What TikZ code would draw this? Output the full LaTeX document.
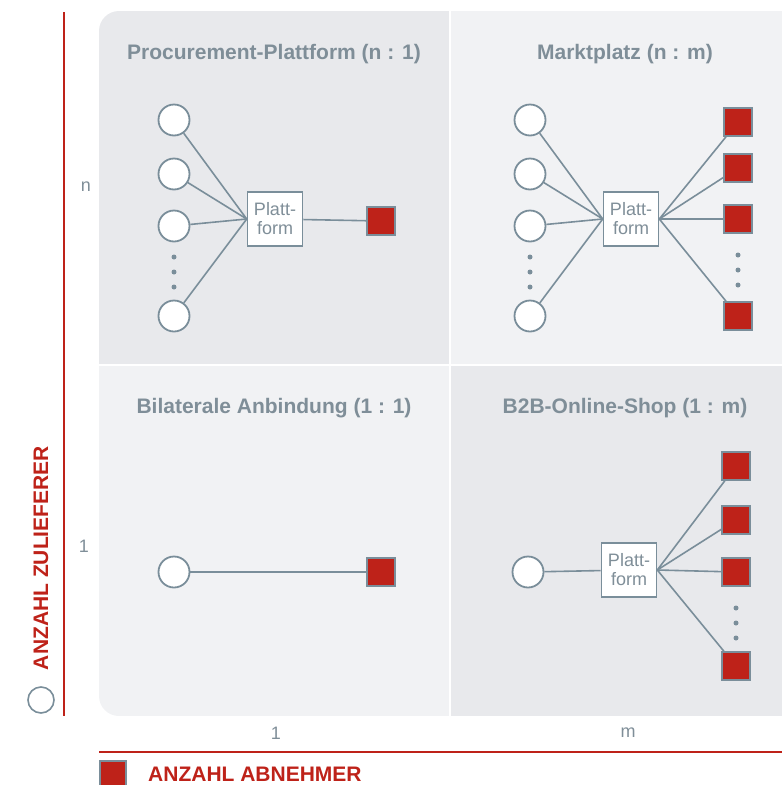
\documentclass[tikz,border=0pt]{standalone}
\usepackage{fontspec}
\setmainfont{Liberation Sans}
\definecolor{edge}{HTML}{7A8E9A}
\definecolor{txtgray}{HTML}{7F8E98}
\definecolor{accent}{HTML}{BE2219}
\definecolor{panelA}{HTML}{E8E9EC}
\definecolor{panelB}{HTML}{F1F2F4}
\begin{document}
\begin{tikzpicture}[x=1pt,y=-1pt,
  party/.style={circle,draw=edge,fill=white,line width=1.8pt,minimum size=31pt,inner sep=0pt},
  buyer/.style={rectangle,draw=edge,fill=accent,line width=1.6pt,minimum size=28pt,inner sep=0pt},
  hub/.style={rectangle,draw=edge,fill=white,line width=1.6pt,minimum width=55pt,minimum height=54pt,inner sep=0pt,
    align=center,font=\fontsize{18}{19}\selectfont,text=txtgray},
  link/.style={draw=edge,line width=1.6pt},
  title/.style={font=\bfseries\fontsize{21}{24}\selectfont,text=txtgray},
  tick/.style={font=\fontsize{18}{20}\selectfont,text=txtgray},
  dotmark/.style={circle,fill=edge,minimum size=5pt,inner sep=0pt},
  axis/.style={draw=accent,line width=2pt}]
\useasboundingbox (0,0) rectangle (782,785);
% quadrant backgrounds
\begin{scope}
  \clip[rounded corners=20pt] (99,11) rectangle (830,716);
  \fill[panelA] (99,11) rectangle (449,364);
  \fill[panelB] (451,11) rectangle (782,364);
  \fill[panelB] (99,366) rectangle (449,716);
  \fill[panelA] (451,366) rectangle (782,716);
\end{scope}
% axes
\draw[axis] (64,12) -- (64,716);
\draw[axis] (99,752) -- (782,752);
\node[party,minimum size=26pt,line width=1.6pt] (lgc) at (41,700) {};
\node[buyer,minimum size=26pt] (lgs) at (113,774) {};
\node[rotate=90,font=\bfseries\fontsize{21}{24}\selectfont,text=accent] (ylab) at (41,558) {ANZAHL ZULIEFERER};
\node[anchor=west,font=\bfseries\fontsize{21}{24}\selectfont,text=accent,inner sep=0pt] (xlab) at (148,774) {ANZAHL ABNEHMER};
\node[tick] (tn) at (86,187) {n};
\node[tick] (t1y) at (84,546) {1};
\node[tick] (t1x) at (276,733) {1};
\node[tick] (tm) at (628,733) {m};

% Procurement-Plattform (n : 1)
\node[title] (ttl1) at (274,54) {Procurement-Plattform (n : 1)};
\node[party] (a1) at (174,120) {};
\node[party] (a2) at (174,174) {};
\node[party] (a3) at (174,226) {};
\node[party] (a4) at (174,316) {};
\foreach \y in {257,272,287} \node[dotmark] at (174,\y) {};
\node[hub] (p1) at (275,219) {Platt-\\form};
\node[buyer] (b1) at (381,221) {};
\foreach \n in {a1,a2,a3,a4} \draw[link] (\n) -- (p1.west);
\draw[link] (p1) -- (b1);

% Marktplatz (n : m)
\node[title] (ttl2) at (625,54) {Marktplatz (n : m)};
\node[party] (c1) at (530,120) {};
\node[party] (c2) at (530,174) {};
\node[party] (c3) at (530,226) {};
\node[party] (c4) at (530,316) {};
\foreach \y in {257,272,287} \node[dotmark] at (530,\y) {};
\node[hub] (p2) at (631,219) {Platt-\\form};
\node[buyer] (d1) at (738,122) {};
\node[buyer] (d2) at (738,168) {};
\node[buyer] (d3) at (738,219) {};
\node[buyer] (d4) at (738,316) {};
\foreach \y in {255,270,285} \node[dotmark] at (738,\y) {};
\foreach \n in {c1,c2,c3,c4} \draw[link] (\n) -- (p2.west);
\foreach \n in {d1,d2,d3,d4} \draw[link] (p2.east) -- (\n);

% Bilaterale Anbindung (1 : 1)
\node[title] (ttl3) at (274,408) {Bilaterale Anbindung (1 : 1)};
\node[party] (e1) at (174,572) {};
\node[buyer] (f1) at (381,572) {};
\draw[link] (e1) -- (f1);

% B2B-Online-Shop (1 : m)
\node[title] (ttl4) at (625,408) {B2B-Online-Shop (1 : m)};
\node[party] (g1) at (528,572) {};
\node[hub] (p3) at (629,570) {Platt-\\form};
\node[buyer] (h1) at (736,466) {};
\node[buyer] (h2) at (736,520) {};
\node[buyer] (h3) at (736,572) {};
\node[buyer] (h4) at (736,666) {};
\foreach \y in {608,623,638} \node[dotmark] at (736,\y) {};
\draw[link] (g1) -- (p3);
\foreach \n in {h1,h2,h3,h4} \draw[link] (p3.east) -- (\n);
\end{tikzpicture}
\end{document}
